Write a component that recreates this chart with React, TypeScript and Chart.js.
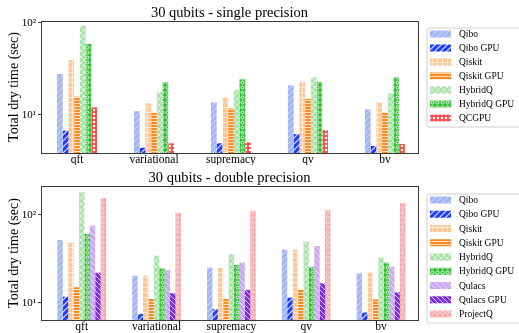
import React, { useEffect, useRef } from 'react';
import { Chart, registerables } from 'chart.js';
Chart.register(...registerables);

const categories = ['qft', 'variational', 'supremacy', 'qv', 'bv'];
const yTickLabels: Record<number, string> = { 10: '10\u00B9', 100: '10\u00B2' };
const yAxisTitle = 'Total dry time (sec)';
const titleSingle = '30 qubits - single precision';
const titleDouble = '30 qubits - double precision';

// single precision
const qiboSP = [27.9, 11.0, 13.7, 21.0, 11.5];
const qiboGpuSP = [6.75, 4.41, 4.92, 6.2, 4.6];
const qiskitSP = [39.6, 13.4, 15.6, 23.2, 13.7];
const qiskitGpuSP = [15.8, 10.6, 11.8, 14.9, 10.6];
const hybridqSP = [92.8, 17.7, 18.7, 25.7, 17.2];
const hybridqGpuSP = [59, 22.7, 24.4, 23.0, 25.7];
const qcgpuSP = [12.1, 4.92, 5.05, 6.87, 4.84];

// double precision
const qiboDP = [52, 20.4, 25.2, 40.3, 21.7];
const qiboGpuDP = [11.8, 7.5, 8.5, 11.5, 7.8];
const qiskitDP = [49, 20.4, 25.2, 40.3, 22.3];
const qiskitGpuDP = [15.1, 11.1, 11.3, 14.3, 11.0];
const hybridqDP = [181, 34.5, 35.7, 49.7, 33];
const hybridqGpuDP = [60.8, 24.8, 27, 25.6, 28.7];
const qulacsDP = [75.7, 23.7, 28.7, 44.4, 25.9];
const qulacsGpuDP = [22.1, 12.9, 14.1, 16.7, 13.2];
const projectqDP = [155, 106, 111, 113, 136];

const FONT = 'Liberation Serif';

type Style = { bg: string; fg: string; hatch: string; size: number; lw?: number };

const styles: Record<string, Style> = {
  Qibo: { bg: '#a4b6f3', fg: 'rgba(255,255,255,0.5)', hatch: '/', size: 6 },
  'Qibo GPU': { bg: '#1d3dfb', fg: 'rgba(255,255,255,0.85)', hatch: '/', size: 6, lw: 1.2 },
  Qiskit: { bg: '#ffc797', fg: 'rgba(255,255,255,0.6)', hatch: '+', size: 5 },
  'Qiskit GPU': { bg: '#ff8a24', fg: 'rgba(255,255,255,0.7)', hatch: '-', size: 3 },
  HybridQ: { bg: '#a9e2a9', fg: 'rgba(255,255,255,0.6)', hatch: 'x', size: 6 },
  'HybridQ GPU': { bg: '#2fbf2f', fg: 'rgba(255,255,255,0.9)', hatch: 'o', size: 5 },
  QCGPU: { bg: '#ff4848', fg: '#ffffff', hatch: 'O', size: 4 },
  Qulacs: { bg: '#cbaaf3', fg: 'rgba(255,255,255,0.6)', hatch: '\\', size: 6 },
  'Qulacs GPU': { bg: '#7b2fe3', fg: 'rgba(255,255,255,0.75)', hatch: '\\', size: 5 },
  ProjectQ: { bg: '#f6a4a6', fg: 'rgba(255,255,255,0.65)', hatch: 'o', size: 5 },
};

function makePattern(s: Style): CanvasPattern | string {
  const size = s.size;
  const c = document.createElement('canvas');
  c.width = size;
  c.height = size;
  const ctx = c.getContext('2d');
  if (!ctx) return s.bg;
  ctx.fillStyle = s.bg;
  ctx.fillRect(0, 0, size, size);
  ctx.strokeStyle = s.fg;
  ctx.fillStyle = s.fg;
  ctx.lineWidth = s.lw ?? 1;
  const line = (x1: number, y1: number, x2: number, y2: number) => {
    ctx.beginPath();
    ctx.moveTo(x1, y1);
    ctx.lineTo(x2, y2);
    ctx.stroke();
  };
  const fwd = () => {
    line(-1, size + 1, size + 1, -1);
    line(-1, 1, 1, -1);
    line(size - 1, size + 1, size + 1, size - 1);
  };
  const back = () => {
    line(-1, -1, size + 1, size + 1);
    line(size - 1, -1, size + 1, 1);
    line(-1, size - 1, 1, size + 1);
  };
  switch (s.hatch) {
    case '/':
      fwd();
      break;
    case '\\':
      back();
      break;
    case 'x':
      fwd();
      back();
      break;
    case '+':
      line(0, size / 2, size, size / 2);
      line(size / 2, 0, size / 2, size);
      break;
    case '-':
      line(0, size / 2, size, size / 2);
      break;
    case 'o':
      ctx.beginPath();
      ctx.arc(size / 2, size / 2, size * 0.3, 0, Math.PI * 2);
      ctx.stroke();
      break;
    case 'O':
      ctx.beginPath();
      ctx.arc(size / 2, size / 2, size * 0.32, 0, Math.PI * 2);
      ctx.fill();
      break;
  }
  return ctx.createPattern(c, 'repeat') ?? s.bg;
}

type Series = { label: string; data: number[] };

type Cfg = {
  title: string;
  series: Series[];
  yMin: number;
  yMax: number;
  xMin: number;
  xMax: number;
  catPct: number;
  xAxisH: number;
  legendTop: number;
  legendStep: number;
  legendBottomPad: number;
};

function buildChart(canvas: HTMLCanvasElement, cfg: Cfg): Chart {
  const fills = cfg.series.map((s) => makePattern(styles[s.label]));
  const frame = {
    id: 'frame',
    afterDatasetsDraw(chart: Chart) {
      const { ctx, chartArea: a } = chart;
      ctx.save();
      ctx.strokeStyle = '#3a3a3a';
      ctx.lineWidth = 1;
      ctx.strokeRect(Math.round(a.left) + 0.5, Math.round(a.top) + 0.5, Math.round(a.right - a.left), Math.round(a.bottom - a.top));
      ctx.restore();
    },
  };
  const titlePlugin = {
    id: 'ctitle',
    afterDraw(chart: Chart) {
      const { ctx, chartArea: a } = chart;
      ctx.save();
      ctx.font = `14.5px "${FONT}"`;
      ctx.fillStyle = '#000';
      ctx.textAlign = 'center';
      ctx.textBaseline = 'alphabetic';
      ctx.fillText(cfg.title, (a.left + a.right) / 2, a.top - 4.5);
      ctx.restore();
    },
  };
  const legendPlugin = {
    id: 'clegend',
    afterDraw(chart: Chart) {
      const { ctx } = chart;
      const x0 = 427;
      const top = cfg.legendTop;
      const n = cfg.series.length;
      const firstY = top + 6;
      const bottom = firstY + (n - 1) * cfg.legendStep + cfg.legendBottomPad;
      ctx.save();
      ctx.beginPath();
      const r = 2;
      const x1 = x0 + 110;
      ctx.moveTo(x0 + r, top);
      ctx.lineTo(x1, top);
      ctx.lineTo(x1, bottom);
      ctx.lineTo(x0 + r, bottom);
      ctx.arcTo(x0, bottom, x0, bottom - r, r);
      ctx.lineTo(x0, top + r);
      ctx.arcTo(x0, top, x0 + r, top, r);
      ctx.closePath();
      ctx.fillStyle = 'rgba(255,255,255,0.85)';
      ctx.fill();
      ctx.strokeStyle = '#d0d0d0';
      ctx.lineWidth = 1;
      ctx.translate(0.5, 0.5);
      ctx.stroke();
      ctx.translate(-0.5, -0.5);
      ctx.font = `9.5px "${FONT}"`;
      ctx.textBaseline = 'middle';
      ctx.textAlign = 'left';
      cfg.series.forEach((s, i) => {
        const cy = firstY + i * cfg.legendStep;
        ctx.fillStyle = fills[i] as any;
        ctx.fillRect(430, cy - 3.5, 21, 7);
        ctx.fillStyle = '#000';
        ctx.fillText(s.label, 459, cy + 0.5);
      });
      ctx.restore();
    },
  };

  return new Chart(canvas, {
    type: 'bar',
    data: {
      datasets: cfg.series.map((s, i) => ({
        label: s.label,
        data: s.data.map((v, j) => ({ x: j, y: v })),
        backgroundColor: fills[i] as any,
        borderWidth: 0,
        categoryPercentage: cfg.catPct,
        barPercentage: 1,
      })),
    },
    options: {
      responsive: false,
      animation: false,
      events: [],
      layout: { padding: { left: 0, right: 101, top: 21, bottom: 0 } },
      plugins: {
        legend: { display: false },
        title: { display: false },
        tooltip: { enabled: false },
      },
      scales: {
        x: {
          type: 'linear',
          min: cfg.xMin,
          max: cfg.xMax,
          offset: false,
          grid: { display: false, drawTicks: false },
          border: { display: false },
          afterBuildTicks: (s: any) => {
            s.ticks = categories.map((_, i) => ({ value: i }));
          },
          afterFit: (s: any) => {
            s.height = cfg.xAxisH;
          },
          ticks: {
            autoSkip: false,
            maxRotation: 0,
            padding: 0,
            color: '#000',
            font: { family: FONT, size: 11.5 },
            callback: (v: any) => categories[Math.round(Number(v))] ?? '',
          },
        },
        y: {
          type: 'logarithmic',
          min: cfg.yMin,
          max: cfg.yMax,
          grid: { drawOnChartArea: false, drawTicks: true, tickLength: 3, color: '#333' },
          border: { display: false },
          afterBuildTicks: (s: any) => {
            s.ticks = [{ value: 10 }, { value: 100 }];
          },
          afterFit: (s: any) => {
            s.width = 41;
          },
          ticks: {
            padding: 2,
            color: '#000',
            font: { family: FONT, size: 11 },
            callback: (v: any) => yTickLabels[Number(v)] ?? '',
          },
          title: {
            display: true,
            text: yAxisTitle,
            color: '#000',
            font: { family: FONT, size: 14 },
            padding: { top: 6, bottom: 0 },
          },
        },
      },
    } as any,
    plugins: [frame, titlePlugin, legendPlugin],
  });
}

export default function App() {
  const topRef = useRef<HTMLCanvasElement>(null);
  const botRef = useRef<HTMLCanvasElement>(null);

  useEffect(() => {
    document.body.style.margin = '0';
    const charts: Chart[] = [];
    if (topRef.current) {
      charts.push(
        buildChart(topRef.current, {
          title: titleSingle,
          series: [
            { label: 'Qibo', data: qiboSP },
            { label: 'Qibo GPU', data: qiboGpuSP },
            { label: 'Qiskit', data: qiskitSP },
            { label: 'Qiskit GPU', data: qiskitGpuSP },
            { label: 'HybridQ', data: hybridqSP },
            { label: 'HybridQ GPU', data: hybridqGpuSP },
            { label: 'QCGPU', data: qcgpuSP },
          ],
          yMin: 3.86,
          yMax: 105,
          xMin: -0.468,
          xMax: 4.43,
          catPct: 0.52,
          xAxisH: 12,
          legendTop: 28,
          legendStep: 14,
          legendBottomPad: 9,
        })
      );
    }
    if (botRef.current) {
      charts.push(
        buildChart(botRef.current, {
          title: titleDouble,
          series: [
            { label: 'Qibo', data: qiboDP },
            { label: 'Qibo GPU', data: qiboGpuDP },
            { label: 'Qiskit', data: qiskitDP },
            { label: 'Qiskit GPU', data: qiskitGpuDP },
            { label: 'HybridQ', data: hybridqDP },
            { label: 'HybridQ GPU', data: hybridqGpuDP },
            { label: 'Qulacs', data: qulacsDP },
            { label: 'Qulacs GPU', data: qulacsGpuDP },
            { label: 'ProjectQ', data: projectqDP },
          ],
          yMin: 6.41,
          yMax: 213,
          xMin: -0.544,
          xMax: 4.495,
          catPct: 0.65,
          xAxisH: 13,
          legendTop: 29,
          legendStep: 14.25,
          legendBottomPad: 9,
        })
      );
    }
    return () => {
      charts.forEach((c) => c.destroy());
    };
  }, []);

  return (
    <div style={{ width: 519, height: 333, overflow: 'hidden' }}>
      <canvas ref={topRef} width={519} height={165} style={{ display: 'block' }} />
      <canvas ref={botRef} width={519} height={168} style={{ display: 'block' }} />
    </div>
  );
}
